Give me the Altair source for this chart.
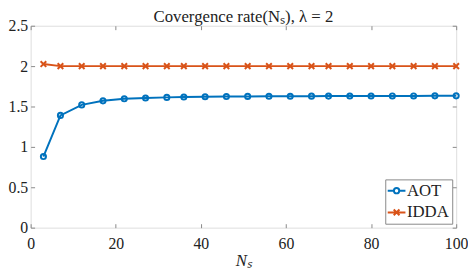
import altair as alt
import pandas as pd

# ---- data ----
ns = [3, 7, 12, 17, 22, 27, 32, 36, 41, 46, 51, 56, 61, 66, 70, 75, 80, 85, 90, 95, 100]
aot = [0.88, 1.39, 1.52, 1.57, 1.595, 1.605, 1.613, 1.618, 1.621, 1.623, 1.625,
       1.626, 1.627, 1.628, 1.629, 1.63, 1.63, 1.631, 1.631, 1.632, 1.632]
idda = [2.025, 2.0, 2.0, 2.0, 2.0, 2.0, 2.0, 2.0, 2.0, 2.0, 2.0,
        2.0, 2.0, 2.0, 2.0, 2.0, 2.0, 2.0, 2.0, 2.0, 2.0]
series = ["AOT", "IDDA"]
colors = ["#0072BD", "#D95319"]
x_ticks = [0, 20, 40, 60, 80, 100]
y_ticks = [0, 0.5, 1, 1.5, 2, 2.5]

rows = []
for name, vals in zip(series, [aot, idda]):
    for n, v in zip(ns, vals):
        rows.append({"Ns": n, "value": v, "series": name})
df = pd.DataFrame(rows)

FONT = "Liberation Serif"
W, H = 432, 205
FRAME = "#888888"
TXT = "#222222"
XPATH = "M-1.1,-1.1L1.1,1.1M-1.1,1.1L1.1,-1.1"
LEG_CIRCLE = "M-2,0L-0.6,0M0.6,0L2,0M-0.6,0A0.6,0.6,0,1,1,0.6,0A0.6,0.6,0,1,1,-0.6,0"
LEG_X = "M-2,0L2,0M-0.65,-0.65L0.65,0.65M-0.65,0.65L0.65,-0.65"

x_scale = alt.Scale(domain=[0, 100], nice=False, zero=False)
y_scale = alt.Scale(domain=[0, 2.5], nice=False, zero=False)
color_scale = alt.Scale(domain=series, range=colors)

def tick_axis(orient, values, offset):
    return alt.Axis(orient=orient, values=values, offset=offset, labels=False,
                    domain=False, grid=False, ticks=True, tickSize=4,
                    tickColor=FRAME, tickWidth=1)

base = alt.Chart(df)

line = base.mark_line(strokeWidth=2).encode(
    x=alt.X("Ns:Q", scale=x_scale,
            axis=alt.Axis(orient="bottom", values=x_ticks, format="d", tickSize=0,
                          labelPadding=8, labelFlush=False, domain=False, grid=False,
                          labelFont=FONT, labelFontSize=16, labelColor=TXT,
                          title="Nₛ", titleFont=FONT, titleFontSize=17,
                          titleFontStyle="italic", titleFontWeight="normal",
                          titleColor=TXT, titlePadding=1)),
    y=alt.Y("value:Q", scale=y_scale,
            axis=alt.Axis(orient="left", values=y_ticks, format="~g", tickSize=0,
                          labelPadding=3, labelFlush=False, domain=False, grid=False,
                          labelFont=FONT, labelFontSize=16, labelColor=TXT,
                          title=None)),
    color=alt.Color("series:N", scale=color_scale, legend=None),
)

points = base.mark_point(filled=False, strokeWidth=2, size=27, opacity=1).encode(
    x=alt.X("Ns:Q", scale=x_scale, axis=tick_axis("top", x_ticks, -H), title=None),
    y=alt.Y("value:Q", scale=y_scale, axis=tick_axis("right", y_ticks, -W), title=None),
    color=alt.Color("series:N", scale=color_scale, legend=None),
    shape=alt.Shape("series:N", scale=alt.Scale(domain=series, range=["circle", XPATH]),
                    legend=None),
)

legend_layer = base.transform_filter("false").mark_point(
    filled=False, strokeWidth=2, size=81, opacity=1).encode(
    x=alt.X("Ns:Q", scale=x_scale, axis=tick_axis("bottom", x_ticks, -H), title=None),
    y=alt.Y("value:Q", scale=y_scale, axis=tick_axis("left", y_ticks, -W), title=None),
    color=alt.Color("series:N", scale=color_scale, title=None,
                    legend=alt.Legend(orient="bottom-right", offset=4, title=None,
                                      labelFont=FONT, labelFontSize=17,
                                      labelColor=TXT, strokeColor=FRAME,
                                      fillColor="white", padding=3, symbolSize=81,
                                      symbolStrokeWidth=2, symbolOpacity=1,
                                      labelOffset=2, rowPadding=4)),
    shape=alt.Shape("series:N", title=None,
                    scale=alt.Scale(domain=series, range=[LEG_CIRCLE, LEG_X])),
)

chart = alt.layer(line, points, legend_layer).resolve_scale(
    color="independent", shape="independent"
).resolve_axis(x="independent", y="independent").properties(
    width=W, height=H,
    title=alt.TitleParams("Covergence rate(Nₛ), λ = 2", font=FONT, fontSize=17,
                          fontWeight="normal", color=TXT, anchor="middle",
                          frame="group", offset=-8),
    autosize=alt.AutoSizeParams(type="none"),
    padding={"left": 23, "top": 16, "right": 12, "bottom": 42},
).configure_view(stroke=FRAME, strokeWidth=1).configure(background="white")

chart.save("out.html", embed_options={"renderer": "svg", "actions": False})
